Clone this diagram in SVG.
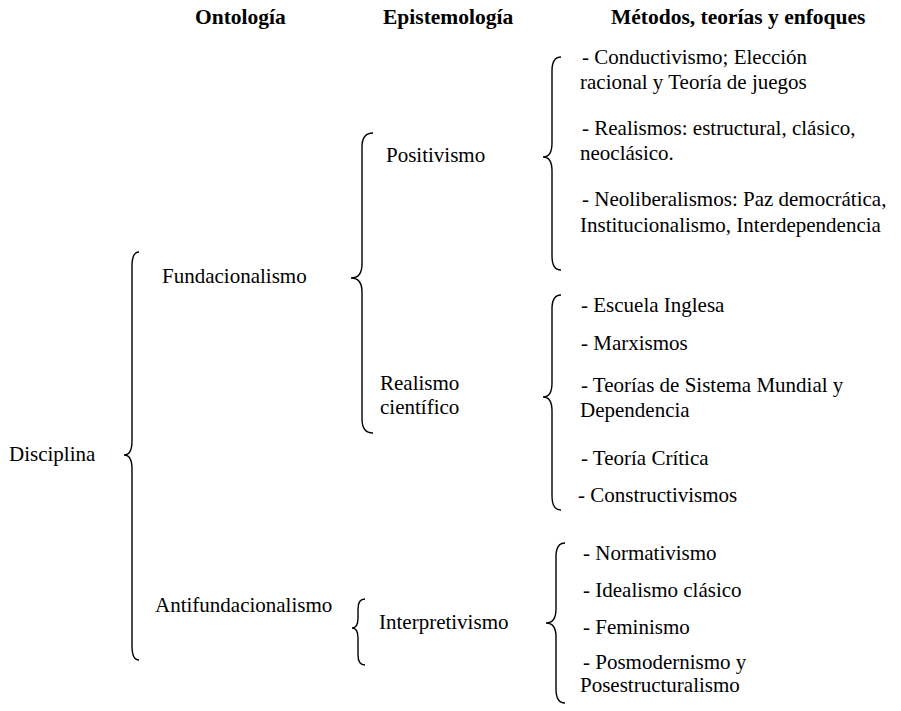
<svg xmlns="http://www.w3.org/2000/svg" width="901" height="711" viewBox="0 0 901 711">
<style>
  text { font-family: "Liberation Serif", "Times New Roman", serif; font-size: 21px; fill: #000; }
  .h { font-weight: bold; font-size: 21.5px; }
  .brace { fill: none; stroke: #000; stroke-width: 1.4; }
</style>
<rect width="901" height="711" fill="#fff"/>
<g id="headers">
  <text class="h" x="195" y="24">Ontología</text>
  <text class="h" x="383" y="24">Epistemología</text>
  <text class="h" x="611" y="24">Métodos, teorías y enfoques</text>
</g>
<g id="connectors">
  <path class="brace" d="M139,252 Q132,252 132,266 L132,441 Q132,455 124,455 Q132,455 132,469 L132,646 Q132,660 139,660"/>
  <path class="brace" d="M373,133 Q362,133 362,147 L362,264 Q362,278 351,278 Q362,278 362,292 L362,419 Q362,433 373,433"/>
  <path class="brace" d="M561,57 Q552,57 552,71 L552,143 Q552,157 543,157 Q552,157 552,171 L552,256 Q552,270 561,270"/>
  <path class="brace" d="M561,295 Q552,295 552,309 L552,383 Q552,397 543,397 Q552,397 552,411 L552,496 Q552,510 561,510"/>
  <path class="brace" d="M365,599 Q358,599 358,609 L358,618 Q358,628 352,628 Q358,628 358,638 L358,655 Q358,665 365,665"/>
  <path class="brace" d="M565,543 Q556,543 556,557 L556,609 Q556,623 546,623 Q556,623 556,637 L556,689 Q556,703 565,703"/>
</g>
<g id="disciplina"><text x="9" y="461">Disciplina</text></g>
<g id="fundacionalismo"><text x="162" y="283">Fundacionalismo</text></g>
<g id="antifundacionalismo"><text x="155" y="612">Antifundacionalismo</text></g>
<g id="positivismo"><text x="386" y="162">Positivismo</text></g>
<g id="realismo-cientifico"><text x="380" y="390">Realismo</text><text x="380" y="414">científico</text></g>
<g id="interpretivismo"><text x="379" y="629">Interpretivismo</text></g>
<g id="metodos-positivismo">
  <text x="582" y="64">- Conductivismo; Elección</text>
  <text x="580" y="89">racional y Teoría de juegos</text>
  <text x="582" y="135">- Realismos: estructural, clásico,</text>
  <text x="580" y="160">neoclásico.</text>
  <text x="582" y="206">- Neoliberalismos: Paz democrática,</text>
  <text x="580" y="232">Institucionalismo, Interdependencia</text>
</g>
<g id="metodos-realismo">
  <text x="581" y="312">- Escuela Inglesa</text>
  <text x="581" y="350">- Marxismos</text>
  <text x="581" y="392">- Teorías de Sistema Mundial y</text>
  <text x="580" y="417">Dependencia</text>
  <text x="581" y="465">- Teoría Crítica</text>
  <text x="578" y="502">- Constructivismos</text>
</g>
<g id="metodos-interpretivismo">
  <text x="583" y="560">- Normativismo</text>
  <text x="583" y="597">- Idealismo clásico</text>
  <text x="583" y="634">- Feminismo</text>
  <text x="583" y="669">- Posmodernismo y</text>
  <text x="580" y="692">Posestructuralismo</text>
</g>
</svg>
